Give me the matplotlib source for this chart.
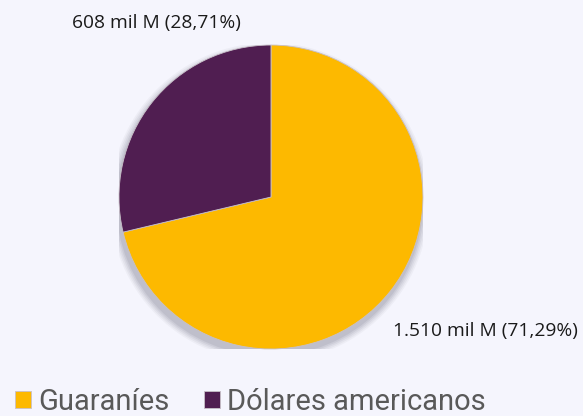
import matplotlib.pyplot as plt
from matplotlib.patches import Circle

# datos
categorias = ['Guaraníes', 'Dólares americanos']
valores = [71.29, 28.71]
etiquetas = ['1.510 mil M (71,29%)', '608 mil M (28,71%)']
colores = ['#FDB900', '#501E51']
fondo = '#F5F5FD'

fig = plt.figure(figsize=(5.83, 4.16), dpi=100, facecolor=fondo)
ax = fig.add_axes([0.2041, 0.1610, 0.5214, 0.7308])
ax.set_facecolor(fondo)

# sombra suave, mas marcada abajo
for i, a in enumerate([0.04, 0.05, 0.06, 0.07, 0.08]):
    r = 1.0 + 0.01 * (5 - i)
    ax.add_patch(Circle((-0.01, -0.035), r, color='#30304a', alpha=a, lw=0, zorder=0))

wedges, _ = ax.pie(valores, colors=colores, startangle=90, counterclock=False,
                   radius=1.0, wedgeprops=dict(linewidth=0.6, edgecolor='#c8c0c8'))
for w in wedges:
    w.set_zorder(2)

ax.set_xlim(-1, 1)
ax.set_ylim(-1, 1)
ax.axis('off')

fig.text(485 / 583, 1 - 331 / 416, etiquetas[0], ha='center', va='center',
         fontsize=13.8, family='Open Sans', color='#1a1a1a')
fig.text(156 / 583, 1 - 23 / 416, etiquetas[1], ha='center', va='center',
         fontsize=13.8, family='Open Sans', color='#1a1a1a')

leg = fig.legend(wedges, categorias, loc='center left', bbox_to_anchor=(15 / 583, 1 - 402 / 416),
                 ncol=2, frameon=False, handlelength=0.55, handleheight=0.55,
                 handletextpad=0.25, columnspacing=1.18, borderpad=0, borderaxespad=0,
                 prop=dict(family='Roboto', size=21))
for t in leg.get_texts():
    t.set_color('#595959')

fig.savefig('out.png', dpi=100, facecolor=fondo)
